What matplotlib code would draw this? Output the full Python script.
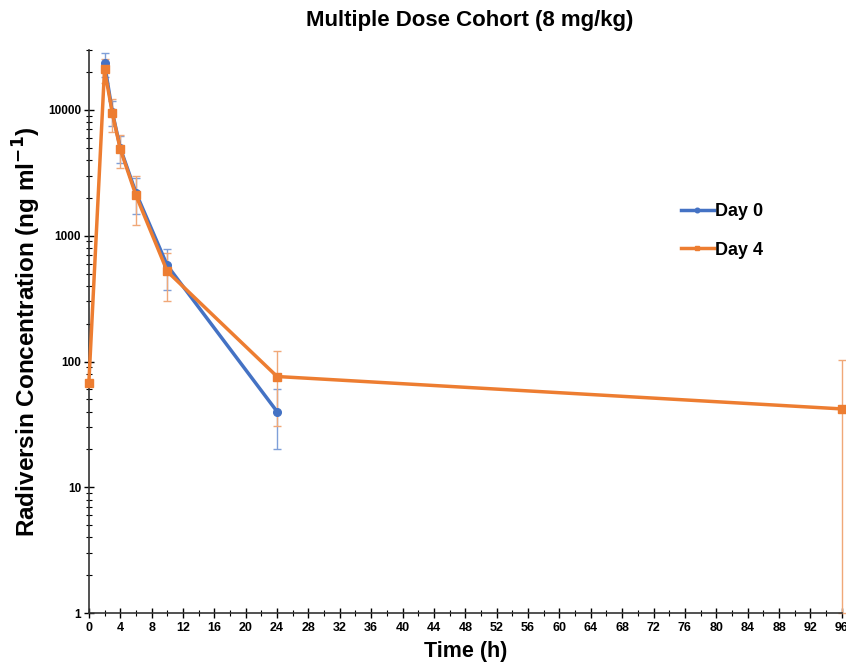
import numpy as np
import matplotlib
matplotlib.use("Agg")
import matplotlib.pyplot as plt
from matplotlib.ticker import FixedLocator, MultipleLocator, LogLocator, NullFormatter

plt.rcParams['font.family'] = ['Liberation Sans', 'DejaVu Sans']

# Data
day0_time = [2, 3, 4, 6, 10, 24]
day0_mean = [23400, 9600, 5000, 2200, 580, 40]
day0_sd = [5000, 2200, 1200, 700, 210, 20]

day4_time = [0, 2, 3, 4, 6, 10, 24, 96]
day4_mean = [67, 21000, 9400, 4900, 2100, 520, 76, 42]
day4_sd = [0, 4500, 2700, 1450, 880, 215, 45, 61]

x_ticks = list(range(0, 97, 4))
y_ticks = [1, 10, 100, 1000, 10000]
y_ticklabels = ["1", "10", "100", "1000", "10000"]

blue = "#4472C4"
orange = "#ED7D31"
blue_err = "#7F9FD8"
orange_err = "#F0A878"

fig = plt.figure(figsize=(8.46, 6.65), dpi=100)
ax = fig.add_axes([0.105, 0.078, 0.890, 0.847])
ymin, ymax = 1, 30000

def draw(t, m, sd, color, ecolor, marker, ms, label):
    m = np.array(m, float)
    sd = np.array(sd, float)
    lower = np.minimum(sd, m - ymin)
    eb = ax.errorbar(t, m, yerr=[lower, sd], fmt='none', ecolor=ecolor, elinewidth=1.0,
                     capsize=3, capthick=1.0, zorder=2)
    for art in list(eb.lines[1]) + list(eb.lines[2]):
        art.set_clip_on(False)
    ax.plot(t, m, color=color, lw=2.5, marker=marker, ms=ms, label=label, zorder=3,
            clip_on=False)

draw(day0_time, day0_mean, day0_sd, blue, blue_err, 'o', 5.5, "Day 0")
draw(day4_time, day4_mean, day4_sd, orange, orange_err, 's', 5.5, "Day 4")

ax.set_yscale('log')
ax.set_xlim(0, 96)
ax.set_ylim(ymin, ymax)

ax.xaxis.set_major_locator(FixedLocator(x_ticks))
ax.xaxis.set_minor_locator(MultipleLocator(2))
ax.set_xticklabels([str(v) for v in x_ticks], fontsize=9, fontweight='bold')
ax.yaxis.set_major_locator(FixedLocator(y_ticks))
ax.set_yticklabels(y_ticklabels, fontsize=8.5, fontweight='bold')
ax.yaxis.set_minor_locator(LogLocator(base=10, subs=np.arange(2, 10)))
ax.yaxis.set_minor_formatter(NullFormatter())

ax.tick_params(axis='both', which='major', direction='inout', length=7, width=1.0, pad=2)
ax.tick_params(axis='x', which='major', pad=3)
ax.tick_params(axis='both', which='minor', direction='inout', length=4, width=0.8)

for s in ['top', 'right']:
    ax.spines[s].set_visible(False)
for s in ['left', 'bottom']:
    ax.spines[s].set_linewidth(1.2)
    ax.spines[s].set_color('#333333')

ax.set_xlabel("Time (h)", fontsize=15.5, fontweight='bold', labelpad=5)
ax.set_ylabel("Radiversin Concentration (ng ml$^{\\mathbf{-1}}$)", fontsize=17.5,
              fontweight='bold', labelpad=4)
fig.suptitle("Multiple Dose Cohort (8 mg/kg)", fontsize=16, fontweight='bold', x=0.555, y=0.985)

leg = ax.legend(loc='upper left', bbox_to_anchor=(0.765, 0.757), frameon=False,
                fontsize=13, handlelength=1.8, handletextpad=0.1, labelspacing=1.2,
                markerscale=0.6)
for t in leg.get_texts():
    t.set_fontweight('bold')

fig.savefig("out.png", dpi=100)
